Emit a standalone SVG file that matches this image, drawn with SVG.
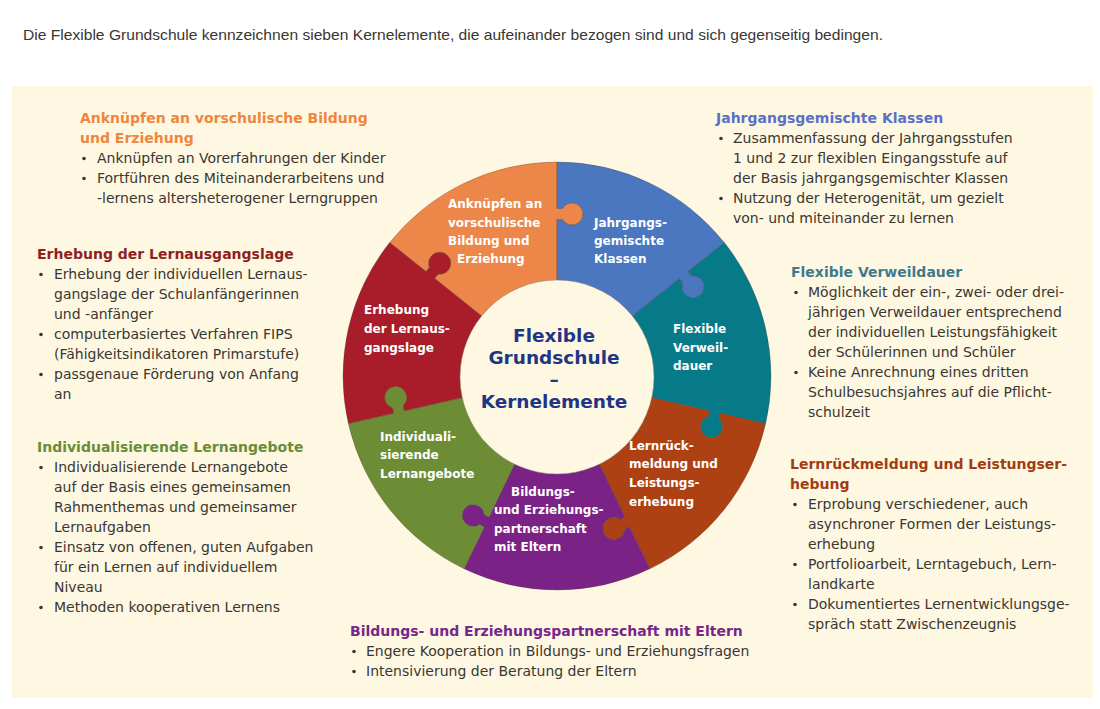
<svg xmlns="http://www.w3.org/2000/svg" xmlns:xlink="http://www.w3.org/1999/xlink" width="1100" height="709" viewBox="0 0 1100 709">
<style>
.body{font-family:"DejaVu Sans","Verdana",sans-serif;font-size:14px;fill:#3a3632}
.hd{font-family:"DejaVu Sans","Verdana",sans-serif;font-size:14px;font-weight:bold}
.lbl{font-family:"DejaVu Sans","Verdana",sans-serif;font-size:12px;font-weight:bold;fill:#ffffff}
.ctr{font-family:"DejaVu Sans","Verdana",sans-serif;font-size:18.5px;font-weight:bold;fill:#1f3585}
.seg{stroke:#4a3a2a;stroke-opacity:0.35;stroke-width:0.8}
.dot{fill:#3a3632}
</style>
<defs>
<path id="seg" d="M56.114,-70.365 L97.576,-122.357 L101.853,-118.947 A11,11 0 1 0 108.712,-127.547 L104.435,-130.957 L133.427,-167.312 A214,214 0 0 1 214,0 L167.5,0 L167.5,5.47 A11,11 0 1 1 156.5,5.47 L156.5,0 L90,0 A90,90 0 0 0 56.114,-70.365 Z"/>
</defs>
<rect width="1100" height="709" fill="#ffffff"/>
<text x="23" y="40" font-family="Liberation Sans, Arial, sans-serif" font-size="14.5" fill="#3a3632" textLength="860" lengthAdjust="spacingAndGlyphs">Die Flexible Grundschule kennzeichnen sieben Kernelemente, die aufeinander bezogen sind und sich gegenseitig bedingen.</text>
<rect x="12" y="86" width="1081" height="612" fill="#fef8e2"/>

<g id="wheel-segments">
<g id="node-anknuepfen"><use xlink:href="#seg" class="seg" fill="#ec8749" transform="translate(557,376) rotate(-90)"/></g>
<g id="node-jahrgang"><use xlink:href="#seg" class="seg" fill="#4a77bf" transform="translate(557,376) rotate(-38.5714)"/></g>
<g id="node-verweildauer"><use xlink:href="#seg" class="seg" fill="#077a8a" transform="translate(557,376) rotate(12.8571)"/></g>
<g id="node-lernrueckmeldung"><use xlink:href="#seg" class="seg" fill="#ae4114" transform="translate(557,376) rotate(64.2857)"/></g>
<g id="node-partnerschaft"><use xlink:href="#seg" class="seg" fill="#7b2286" transform="translate(557,376) rotate(115.7143)"/></g>
<g id="node-individualisierend"><use xlink:href="#seg" class="seg" fill="#6d8c36" transform="translate(557,376) rotate(167.1429)"/></g>
<g id="node-erhebung"><use xlink:href="#seg" class="seg" fill="#a91d2a" transform="translate(557,376) rotate(218.5714)"/></g>
</g>

<g id="node-center">
<circle cx="557" cy="377" r="97" fill="#fef8e2" stroke="#8a7a66" stroke-opacity="0.5" stroke-width="1"/>
<text class="ctr" x="554" y="342" text-anchor="middle">Flexible</text>
<text class="ctr" x="554" y="364" text-anchor="middle">Grundschule</text>
<text class="ctr" x="554" y="386" text-anchor="middle">–</text>
<text class="ctr" x="554" y="408" text-anchor="middle">Kernelemente</text>
</g>

<g id="segment-labels">
<text class="lbl" x="448" y="208">Anknüpfen an</text>
<text class="lbl" x="448" y="227">vorschulische</text>
<text class="lbl" x="448" y="245">Bildung und</text>
<text class="lbl" x="457" y="263">Erziehung</text>

<text class="lbl" x="594" y="227">Jahrgangs-</text>
<text class="lbl" x="594" y="245">gemischte</text>
<text class="lbl" x="594" y="263">Klassen</text>

<text class="lbl" x="673" y="333">Flexible</text>
<text class="lbl" x="673" y="352">Verweil-</text>
<text class="lbl" x="673" y="370">dauer</text>

<text class="lbl" x="629" y="450">Lernrück-</text>
<text class="lbl" x="629" y="468">meldung und</text>
<text class="lbl" x="629" y="487">Leistungs-</text>
<text class="lbl" x="629" y="506">erhebung</text>

<text class="lbl" x="511" y="496">Bildungs-</text>
<text class="lbl" x="494" y="514">und Erziehungs-</text>
<text class="lbl" x="494" y="533">partnerschaft</text>
<text class="lbl" x="494" y="551">mit Eltern</text>

<text class="lbl" x="380" y="441">Individuali-</text>
<text class="lbl" x="380" y="459">sierende</text>
<text class="lbl" x="380" y="478">Lernangebote</text>

<text class="lbl" x="364" y="314">Erhebung</text>
<text class="lbl" x="364" y="333">der Lernaus-</text>
<text class="lbl" x="364" y="352">gangslage</text>
</g>

<g id="text-anknuepfen">
<text class="hd" fill="#ee8640" x="80" y="123">Anknüpfen an vorschulische Bildung</text>
<text class="hd" fill="#ee8640" x="80" y="143">und Erziehung</text>
<circle class="dot" cx="84" cy="158.5" r="1.8"/>
<text class="body" x="97" y="163">Anknüpfen an Vorerfahrungen der Kinder</text>
<circle class="dot" cx="84" cy="178.5" r="1.8"/>
<text class="body" x="97" y="183">Fortführen des Miteinanderarbeitens und</text>
<text class="body" x="97" y="203">-lernens altersheterogener Lerngruppen</text>
</g>

<g id="text-erhebung">
<text class="hd" fill="#8e1f24" x="37" y="259">Erhebung der Lernausgangslage</text>
<circle class="dot" cx="41" cy="274.5" r="1.8"/>
<text class="body" x="54" y="279">Erhebung der individuellen Lernaus-</text>
<text class="body" x="54" y="299">gangslage der Schulanfängerinnen</text>
<text class="body" x="54" y="319">und -anfänger</text>
<circle class="dot" cx="41" cy="334.5" r="1.8"/>
<text class="body" x="54" y="339">computerbasiertes Verfahren FIPS</text>
<text class="body" x="54" y="359">(Fähigkeitsindikatoren Primarstufe)</text>
<circle class="dot" cx="41" cy="374.5" r="1.8"/>
<text class="body" x="54" y="379">passgenaue Förderung von Anfang</text>
<text class="body" x="54" y="399">an</text>
</g>

<g id="text-individualisierend">
<text class="hd" fill="#6a8c38" x="37" y="452">Individualisierende Lernangebote</text>
<circle class="dot" cx="41" cy="467.5" r="1.8"/>
<text class="body" x="54" y="472">Individualisierende Lernangebote</text>
<text class="body" x="54" y="492">auf der Basis eines gemeinsamen</text>
<text class="body" x="54" y="512">Rahmenthemas und gemeinsamer</text>
<text class="body" x="54" y="532">Lernaufgaben</text>
<circle class="dot" cx="41" cy="547.5" r="1.8"/>
<text class="body" x="54" y="552">Einsatz von offenen, guten Aufgaben</text>
<text class="body" x="54" y="572">für ein Lernen auf individuellem</text>
<text class="body" x="54" y="592">Niveau</text>
<circle class="dot" cx="41" cy="607.5" r="1.8"/>
<text class="body" x="54" y="612">Methoden kooperativen Lernens</text>
</g>

<g id="text-jahrgang">
<text class="hd" fill="#5a70c6" x="716" y="123">Jahrgangsgemischte Klassen</text>
<circle class="dot" cx="721" cy="138.5" r="1.8"/>
<text class="body" x="733" y="143">Zusammenfassung der Jahrgangsstufen</text>
<text class="body" x="733" y="163">1 und 2 zur flexiblen Eingangsstufe auf</text>
<text class="body" x="733" y="183">der Basis jahrgangsgemischter Klassen</text>
<circle class="dot" cx="721" cy="198.5" r="1.8"/>
<text class="body" x="733" y="203">Nutzung der Heterogenität, um gezielt</text>
<text class="body" x="733" y="223">von- und miteinander zu lernen</text>
</g>

<g id="text-verweildauer">
<text class="hd" fill="#3f7a8c" x="791" y="277">Flexible Verweildauer</text>
<circle class="dot" cx="796" cy="292.5" r="1.8"/>
<text class="body" x="808" y="297">Möglichkeit der ein-, zwei- oder drei-</text>
<text class="body" x="808" y="317">jährigen Verweildauer entsprechend</text>
<text class="body" x="808" y="337">der individuellen Leistungsfähigkeit</text>
<text class="body" x="808" y="357">der Schülerinnen und Schüler</text>
<circle class="dot" cx="796" cy="372.5" r="1.8"/>
<text class="body" x="808" y="377">Keine Anrechnung eines dritten</text>
<text class="body" x="808" y="397">Schulbesuchsjahres auf die Pflicht-</text>
<text class="body" x="808" y="417">schulzeit</text>
</g>

<g id="text-lernrueckmeldung">
<text class="hd" fill="#a23c13" x="790" y="469">Lernrückmeldung und Leistungser-</text>
<text class="hd" fill="#a23c13" x="790" y="489">hebung</text>
<circle class="dot" cx="795" cy="504.5" r="1.8"/>
<text class="body" x="808" y="509">Erprobung verschiedener, auch</text>
<text class="body" x="808" y="529">asynchroner Formen der Leistungs-</text>
<text class="body" x="808" y="549">erhebung</text>
<circle class="dot" cx="795" cy="564.5" r="1.8"/>
<text class="body" x="808" y="569">Portfolioarbeit, Lerntagebuch, Lern-</text>
<text class="body" x="808" y="589">landkarte</text>
<circle class="dot" cx="795" cy="604.5" r="1.8"/>
<text class="body" x="808" y="609">Dokumentiertes Lernentwicklungsge-</text>
<text class="body" x="808" y="629">spräch statt Zwischenzeugnis</text>
</g>

<g id="text-partnerschaft">
<text class="hd" fill="#772689" x="350" y="636">Bildungs- und Erziehungspartnerschaft mit Eltern</text>
<circle class="dot" cx="354" cy="651.5" r="1.8"/>
<text class="body" x="366" y="656">Engere Kooperation in Bildungs- und Erziehungsfragen</text>
<circle class="dot" cx="354" cy="671.5" r="1.8"/>
<text class="body" x="366" y="676">Intensivierung der Beratung der Eltern</text>
</g>
</svg>
